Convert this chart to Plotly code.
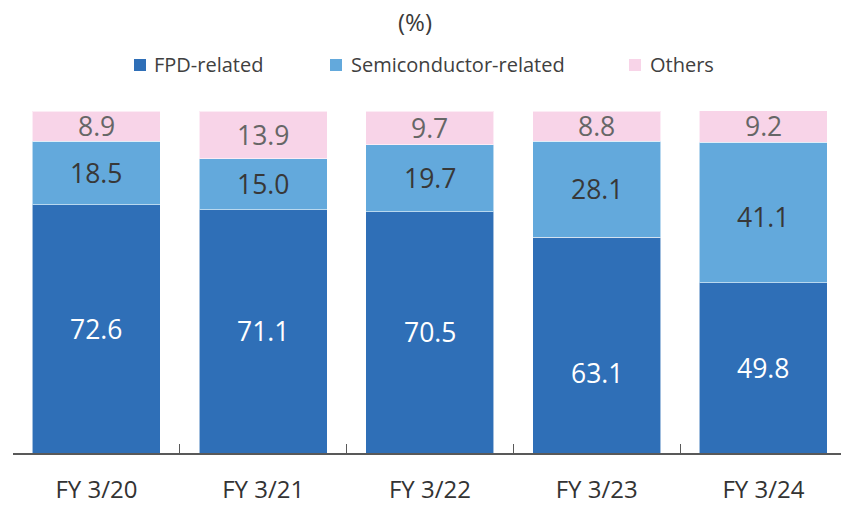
import plotly.graph_objects as go

# Sales composition by segment (%)
categories = ["FY 3/20", "FY 3/21", "FY 3/22", "FY 3/23", "FY 3/24"]
fpd_related = [72.6, 71.1, 70.5, 63.1, 49.8]
semiconductor_related = [18.5, 15.0, 19.7, 28.1, 41.1]
others = [8.9, 13.9, 9.7, 8.8, 9.2]

series_names = ["FPD-related", "Semiconductor-related", "Others"]
series_values = [fpd_related, semiconductor_related, others]
series_colors = ["#2F6FB7", "#63A9DC", "#F8D4E8"]
label_colors = ["#FFFFFF", "#383838", "#666666"]

# per-label vertical nudges in pixels: (series index, category index) -> shift
label_nudge = {(0, 3): -28, (1, 4): -5}

W, H = 841, 505
ML, MR, MT, MB = 13, 0, 111, 52
plot_w = W - ML - MR
plot_h = H - MT - MB
cat_w = 166.75  # pixel width of one category slot

FONT = "Open Sans"

fig = go.Figure()
annotations = []
base = [0.0] * len(categories)
for si, (name, vals, color, tcolor) in enumerate(
        zip(series_names, series_values, series_colors, label_colors)):
    fig.add_trace(go.Bar(
        x=categories,
        y=vals,
        name=name,
        marker=dict(color=color, line=dict(color="rgba(255,255,255,0.55)", width=1)),
        showlegend=False,
        hoverinfo="skip",
    ))
    # value label centred in each segment
    for ci, (cat, v) in enumerate(zip(categories, vals)):
        annotations.append(dict(
            x=cat, y=base[ci] + v / 2, xref="x", yref="y",
            text=f"{v:.1f}", showarrow=False,
            xanchor="center", yanchor="middle",
            yshift=label_nudge.get((si, ci), 0),
            font=dict(family=FONT, size=26.5, color=tcolor),
        ))
        base[ci] += v

# Legend drawn as swatches + labels above the plot
def px_x(p):
    return (p - ML) / plot_w

def px_y(p):
    return (H - MB - p) / plot_h

legend_items = [(134, 152), (330, 349), (629, 648)]
shapes = []
for (sx, tx), name, color in zip(legend_items, series_names, series_colors):
    shapes.append(dict(
        type="rect", xref="paper", yref="paper",
        x0=px_x(sx), x1=px_x(sx + 12), y0=px_y(71), y1=px_y(59),
        fillcolor=color, line=dict(width=0),
    ))
    annotations.append(dict(
        xref="paper", yref="paper", x=px_x(tx), y=px_y(65),
        xanchor="left", yanchor="middle", text=name, showarrow=False,
        font=dict(family=FONT, size=20, color="#404040"),
    ))

annotations.append(dict(
    xref="paper", yref="paper", x=px_x(415), y=px_y(22),
    xanchor="center", yanchor="middle", text="(%)", showarrow=False,
    font=dict(family=FONT, size=24, color="#3a3a3a"),
))

fig.update_layout(
    width=W, height=H,
    barmode="stack",
    bargap=0.232,
    margin=dict(l=ML, r=MR, t=MT, b=MB, pad=0),
    paper_bgcolor="white",
    plot_bgcolor="white",
    shapes=shapes,
    annotations=annotations,
    xaxis=dict(
        range=[-0.5, -0.5 + plot_w / cat_w],
        automargin=False,
        showline=True, linecolor="#595959", linewidth=1.5,
        ticks="inside", ticklen=9, tickwidth=1.2, tickcolor="#595959",
        tickson="boundaries",
        ticklabelstandoff=14,
        tickfont=dict(family=FONT, size=24, color="#333333"),
        showgrid=False, zeroline=False, fixedrange=True,
    ),
    yaxis=dict(
        range=[0, 100], visible=False, showgrid=False, zeroline=False,
        fixedrange=True, automargin=False,
    ),
)

fig.write_html("out.html", config={"displayModeBar": False})
